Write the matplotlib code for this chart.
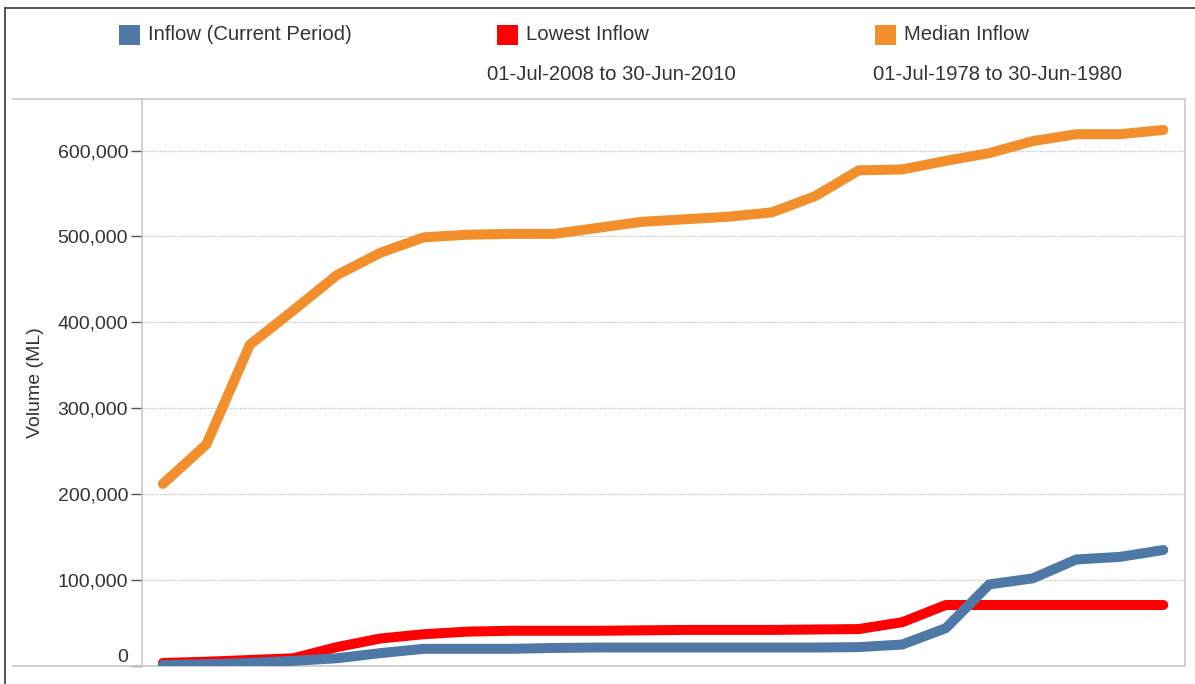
import matplotlib
matplotlib.use("Agg")
import matplotlib.pyplot as plt
from matplotlib.lines import Line2D
from matplotlib.patches import Rectangle
from matplotlib.ticker import FuncFormatter

plt.rcParams['font.family'] = ['Liberation Sans', 'DejaVu Sans']

# ---- data (ML), 24 periods ----
periods = list(range(24))
inflow_current = [1000, 2000, 3500, 6000, 9000, 15000, 20000, 20000, 20000, 21000,
                  21500, 21500, 21500, 21500, 21500, 21500, 22000, 25000, 44000, 95000,
                  102000, 124000, 127000, 135000]
lowest_inflow = [3500, 5000, 7000, 9000, 22000, 32000, 37000, 40000, 41000, 41000,
                 41000, 41500, 42000, 42000, 42000, 42500, 43000, 51000, 71000, 71000,
                 71000, 71000, 71000, 71000]
median_inflow = [212000, 258000, 374000, 414000, 455000, 481000, 499000, 502000, 503000, 503000,
                 510000, 517000, 520000, 523000, 528000, 547000, 577000, 578000, 588000, 597000,
                 611000, 619000, 619000, 624000]
yticks = [0, 100000, 200000, 300000, 400000, 500000, 600000]
legend_names = ["Inflow (Current Period)", "Lowest Inflow", "Median Inflow"]
legend_periods = ["", "01-Jul-2008 to 30-Jun-2010", "01-Jul-1978 to 30-Jun-1980"]
y_label = "Volume (ML)"

c_blue = "#4E79A7"
c_red = "#FF0000"
c_orange = "#F28E2B"
txt = "#333333"
axis_gray = "#C8C8C8"

W, H = 1195, 684
fig = plt.figure(figsize=(W / 100, H / 100), dpi=100)
fig.patch.set_facecolor("white")

L, R, T, B = 142, 1185, 99, 666
ax = fig.add_axes([L / W, 1 - B / H, (R - L) / W, (B - T) / H])

lw = 7.2
ax.plot(periods, inflow_current, color=c_blue, lw=lw, solid_capstyle="round", solid_joinstyle="round", zorder=3)
ax.plot(periods, lowest_inflow, color=c_red, lw=lw, solid_capstyle="round", solid_joinstyle="round", zorder=2)
ax.plot(periods, median_inflow, color=c_orange, lw=lw, solid_capstyle="round", solid_joinstyle="round", zorder=2)

ax.set_xlim(-0.48, 23.5)
ax.set_ylim(0, 660000)
ax.set_xticks([])
ax.set_yticks(yticks)
ax.yaxis.set_major_formatter(FuncFormatter(lambda v, p: f"{int(v):,}"))
ax.tick_params(axis="y", length=8, width=1, color="#555555", labelsize=14, labelcolor=txt, pad=2)
ax.yaxis.grid(True, linestyle=(0, (1, 1)), color="#C0C0C0", lw=0.9)
ax.set_axisbelow(True)
labs = ax.get_yticklabels()
labs[0].set_verticalalignment("bottom")

for s in ax.spines.values():
    s.set_color(axis_gray)
    s.set_linewidth(1.2)

ax.set_ylabel(y_label, fontsize=14, color=txt, labelpad=10)

# extended frame lines (left part of top/bottom rules)
fig.add_artist(Line2D([13 / W, L / W], [1 - B / H, 1 - B / H], color=axis_gray, lw=1.2))
fig.add_artist(Line2D([13 / W, L / W], [1 - T / H, 1 - T / H], color=axis_gray, lw=1.2))
# outer dark border
fig.add_artist(Line2D([5 / W, 5 / W], [0, 1 - 8 / H], color="#444444", lw=1.3))
fig.add_artist(Line2D([5 / W, 1], [1 - 8 / H, 1 - 8 / H], color="#444444", lw=1.3))

# legend
sq_x = [119, 497, 875]
per_x = [0, 487, 873]
colors = [c_blue, c_red, c_orange]
for i, (name, per, col) in enumerate(zip(legend_names, legend_periods, colors)):
    x0 = sq_x[i]
    fig.add_artist(Rectangle((x0 / W, 1 - 45 / H), 21 / W, 20 / H, facecolor=col, edgecolor="none",
                             transform=fig.transFigure))
    fig.text((x0 + 29) / W, 1 - 35 / H, name, fontsize=14.6, color=txt, va="center", ha="left")
    if per:
        fig.text(per_x[i] / W, 1 - 75 / H, per, fontsize=14.6, color=txt, va="center", ha="left")

fig.savefig("out.png", dpi=100, facecolor="white")
